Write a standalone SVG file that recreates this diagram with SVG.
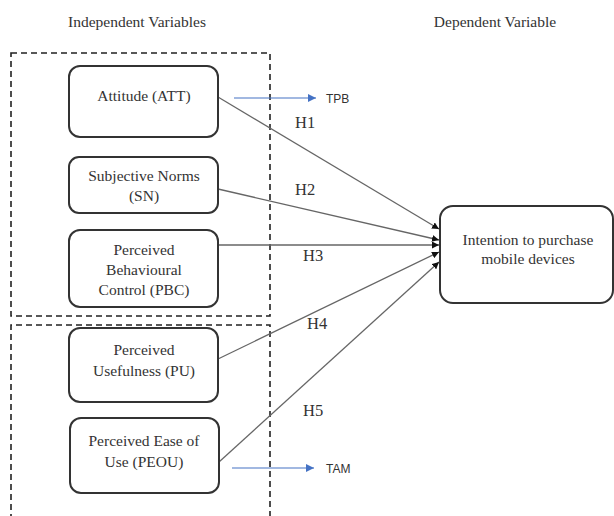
<svg xmlns="http://www.w3.org/2000/svg" width="614" height="516" viewBox="0 0 614 516">
<defs>
<style>
.box{fill:#fff;stroke:#333;stroke-width:2}
.dash{fill:none;stroke:#222;stroke-width:1.6;stroke-dasharray:6,4}
.t{font-family:'Liberation Serif','Times New Roman',serif;font-size:15.5px;fill:#333;text-anchor:middle}
.h{font-family:'Liberation Serif','Times New Roman',serif;font-size:16.5px;fill:#333}
.s{font-family:'Liberation Sans',Arial,sans-serif;font-size:12px;fill:#333}
.c{stroke:#666;stroke-width:1.3;fill:none;marker-end:url(#ah)}
.b{stroke:#4472c4;stroke-width:1.2;fill:none;marker-end:url(#bh)}
</style>
<marker id="ah" viewBox="0 0 10 10" refX="10" refY="5" markerWidth="7" markerHeight="7" markerUnits="userSpaceOnUse" orient="auto"><path d="M0,0L10,5L0,10z" fill="#111"/></marker>
<marker id="bh" viewBox="0 0 10 10" refX="10" refY="5" markerWidth="8" markerHeight="8" markerUnits="userSpaceOnUse" orient="auto"><path d="M0,0L10,5L0,10z" fill="#4472c4"/></marker>
</defs>
<rect width="614" height="516" fill="#fff"/>
<text class="t" x="137" y="27">Independent Variables</text>
<text class="t" x="495" y="27">Dependent Variable</text>
<rect class="dash" x="11" y="53" width="259" height="263"/>
<path class="dash" d="M11,520V325H270V520"/>
<g id="connectors">
<line class="c" x1="218" y1="97" x2="439" y2="229"/>
<line class="c" x1="218" y1="189" x2="439" y2="240"/>
<line class="c" x1="218" y1="245" x2="439" y2="245"/>
<line class="c" x1="218" y1="359" x2="439" y2="252"/>
<line class="c" x1="219" y1="462" x2="439" y2="262"/>
<line class="b" x1="234" y1="98" x2="316" y2="98"/>
<line class="b" x1="232" y1="468" x2="314" y2="468"/>
<text class="h" x="295" y="128">H1</text>
<text class="h" x="295" y="195">H2</text>
<text class="h" x="303" y="261">H3</text>
<text class="h" x="307" y="329">H4</text>
<text class="h" x="303" y="416">H5</text>
<text class="s" x="326" y="103">TPB</text>
<text class="s" x="326" y="473">TAM</text>
</g>
<g id="att"><rect class="box" x="69" y="66" width="149" height="71" rx="11"/><text class="t" x="144" y="101">Attitude (ATT)</text></g>
<g id="sn"><rect class="box" x="69" y="157" width="149" height="56" rx="10"/><text class="t" x="144" y="181">Subjective Norms</text><text class="t" x="144" y="201">(SN)</text></g>
<g id="pbc"><rect class="box" x="69" y="230" width="149" height="77" rx="11"/><text class="t" x="144" y="255">Perceived</text><text class="t" x="144" y="275">Behavioural</text><text class="t" x="144" y="295">Control (PBC)</text></g>
<g id="pu"><rect class="box" x="69" y="328" width="149" height="74" rx="11"/><text class="t" x="144" y="355">Perceived</text><text class="t" x="144" y="376">Usefulness (PU)</text></g>
<g id="peou"><rect class="box" x="70" y="418" width="149" height="75" rx="11"/><text class="t" x="144" y="446">Perceived Ease of</text><text class="t" x="144" y="467">Use (PEOU)</text></g>
<g id="intention"><rect class="box" x="440" y="206" width="173" height="97" rx="13"/><text class="t" x="528" y="245">Intention to purchase</text><text class="t" x="528" y="264">mobile devices</text></g>
</svg>
